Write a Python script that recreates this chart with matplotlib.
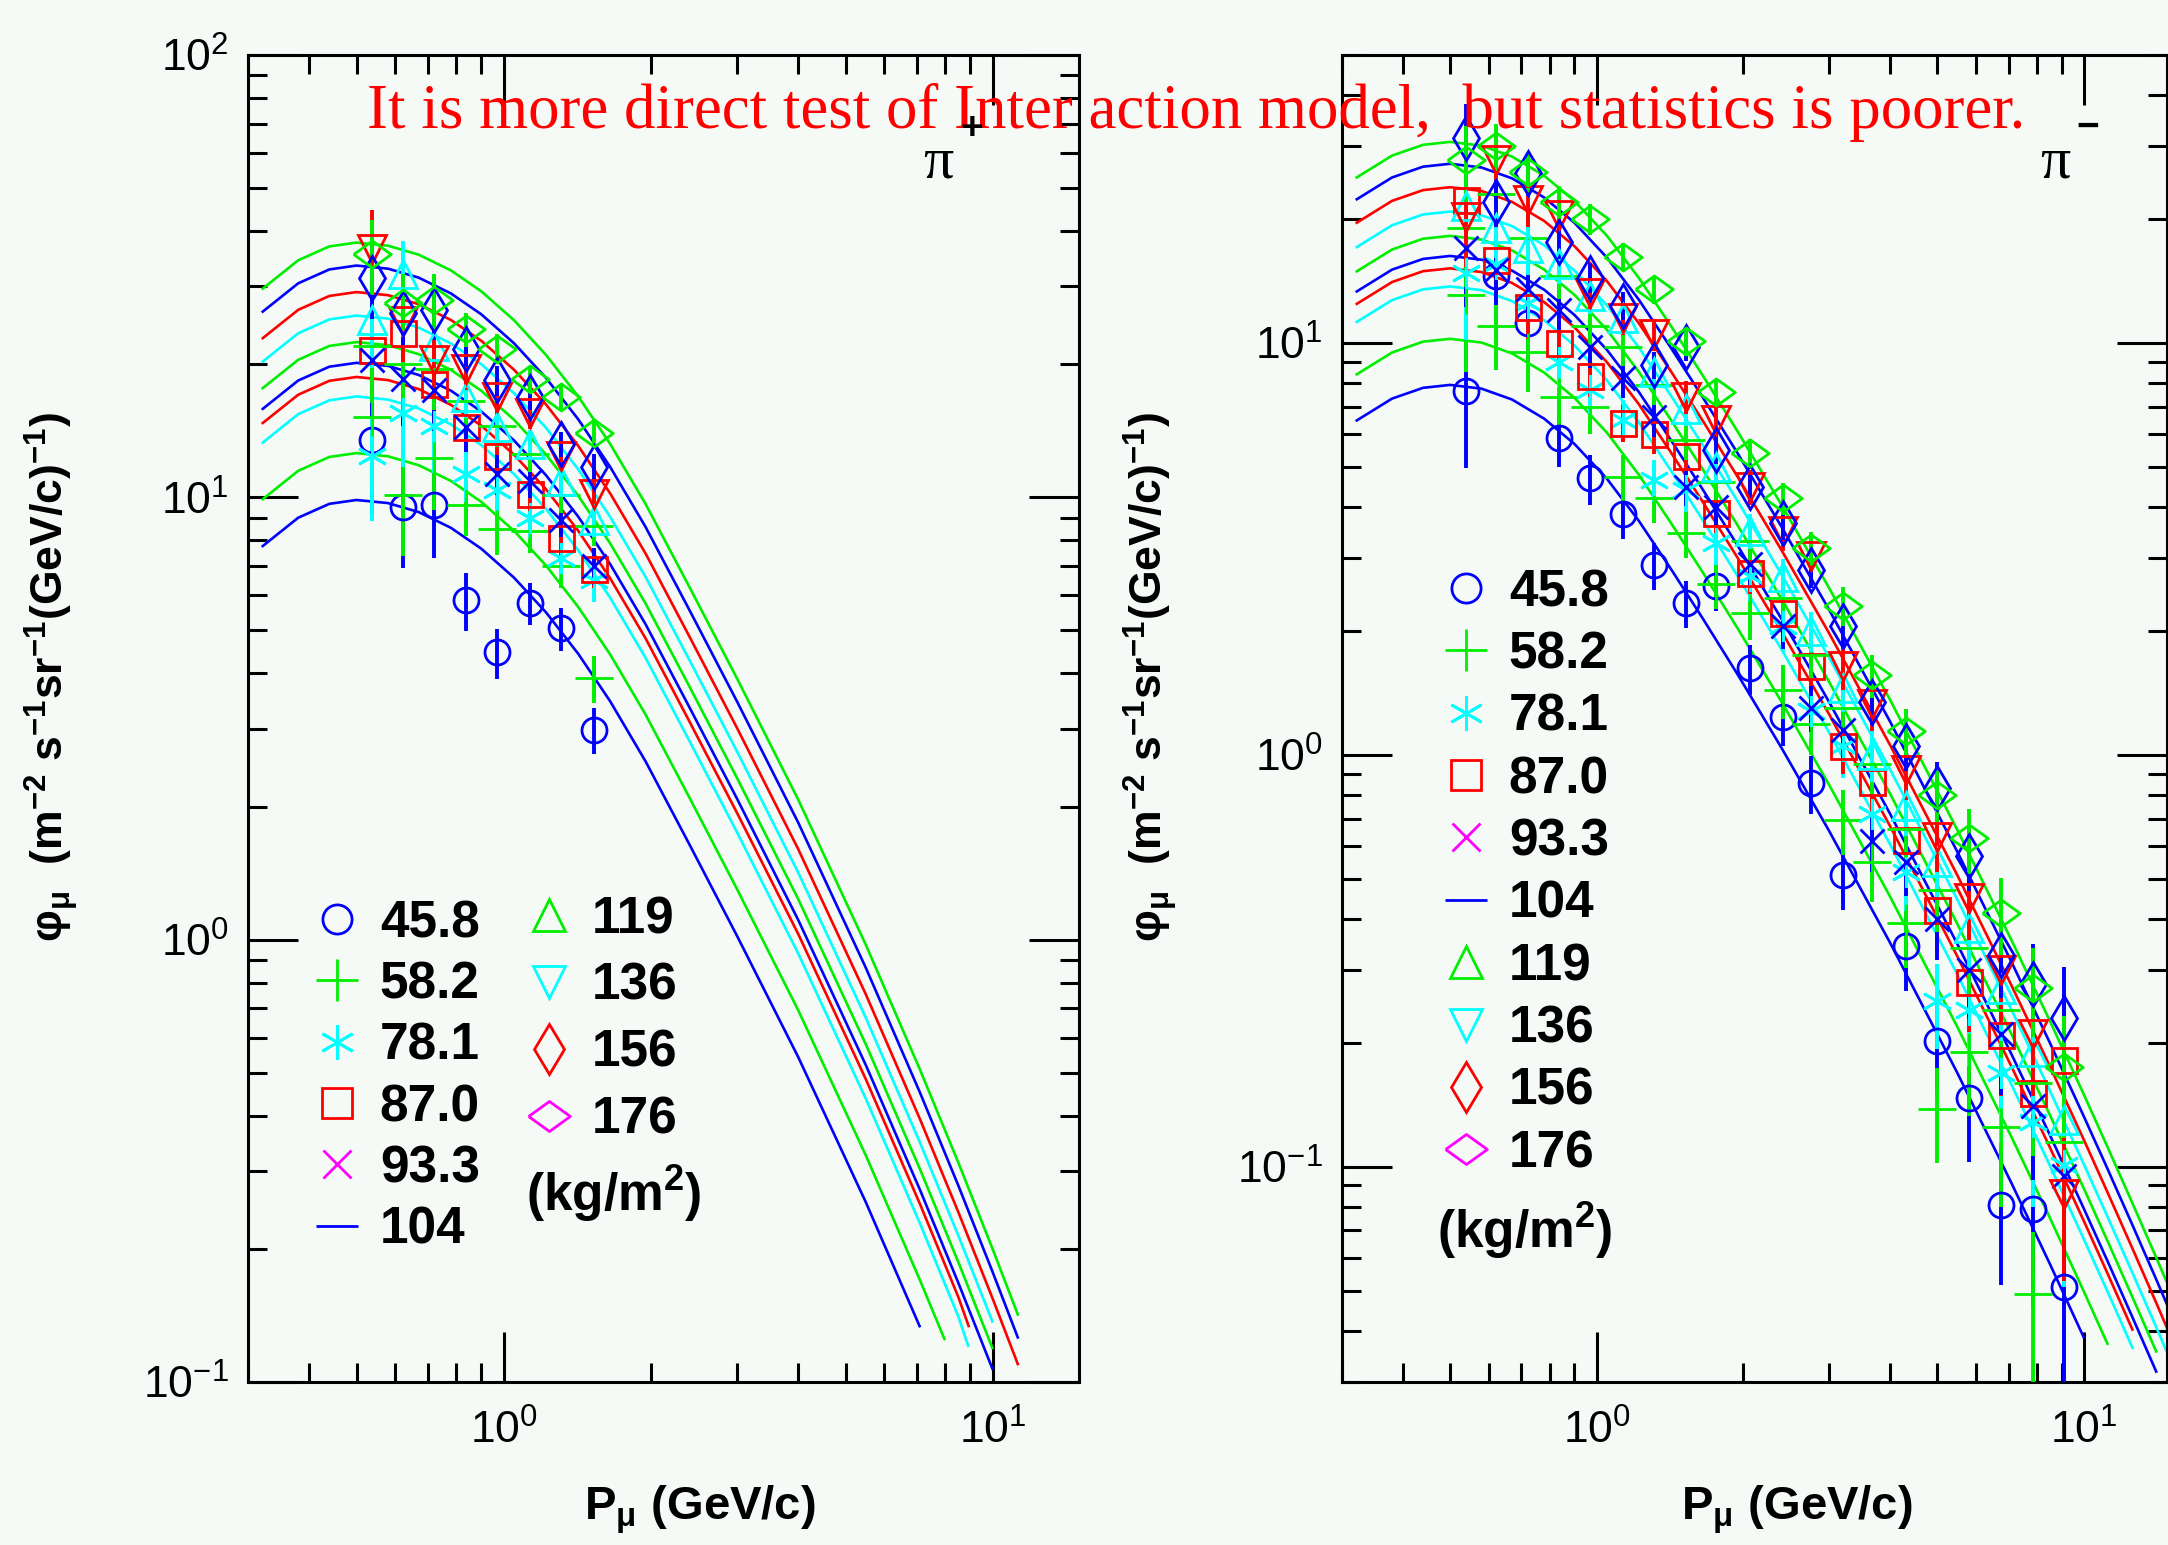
import numpy as np
import matplotlib
matplotlib.use("Agg")
import matplotlib.pyplot as plt
from matplotlib.lines import Line2D
from matplotlib.ticker import LogLocator, NullFormatter

nan = np.nan

# atmospheric depths of the measurements (kg/m^2)
depths = ["45.8", "58.2", "78.1", "87.0", "93.3", "104", "119", "136", "156", "176"]

# muon momentum bin centres (GeV/c)
p_bins = [0.538, 0.621, 0.721, 0.837, 0.968, 1.133, 1.312, 1.528, 1.758, 2.06,
          2.41, 2.75, 3.20, 3.68, 4.31, 5.00, 5.81, 6.75, 7.84, 9.10]

# measured flux, pi+ panel (first 8 momentum bins)
flux_plus = [
    [13.5, 9.5, 9.6, 5.87, 4.47, 5.77, 5.06, 2.98],
    [15.2, 10.1, 12.3, 9.6, 8.5, 8.4, 7.0, 3.9],
    [12.4, 15.5, 14.5, 11.3, 10.4, 9.0, 7.3, 6.5],
    [21.5, 23.5, 18.0, 14.4, 12.4, 10.2, 8.1, 6.9],
    [20.4, 18.5, 17.5, 14.4, 11.3, 10.9, 8.9, 7.0],
    [22.0, 20.0, 19.5, 16.5, 14.5, 12.5, 10.1, 8.6],
    [25.2, 32.0, 22.0, 16.9, 14.4, 13.2, 10.9, 8.9],
    [36.5, 25.0, 20.4, 19.5, 16.9, 15.5, 12.4, 10.2],
    [31.3, 26.1, 26.5, 21.7, 18.4, 16.9, 13.2, 11.7],
    [35.5, 27.5, 28.0, 24.0, 21.7, 18.5, 16.9, 14.0],
]

# measured flux, pi- panel (all 20 momentum bins)
flux_minus = [
    [7.65, 14.5, 11.2, 5.87, 4.70, 3.84, 2.89, 2.34, 2.57, 1.62, 1.235, 0.856, 0.512, nan, 0.343, 0.202, 0.147, 0.0807, 0.0788, 0.051],
    [13.1, 11.0, 9.5, 7.4, 7.0, 4.73, 4.2, 3.45, 2.6, 2.21, 1.44, 1.19, 0.695, 0.55, 0.39, 0.138, 0.19, 0.125, 0.049, nan],
    [14.8, 15.5, 12.5, 9.0, 7.7, 6.5, 4.65, 4.4, 3.27, 2.71, 2.05, 1.28, 1.05, 0.72, 0.52, 0.252, 0.24, 0.169, 0.128, 0.101],
    [22.2, 15.9, 12.2, 10.0, 8.3, 6.4, 6.0, 5.3, 3.86, 2.76, 2.21, 1.64, 1.05, 0.86, 0.62, 0.42, 0.28, 0.209, 0.151, 0.182],
    [17.0, 15.0, 13.5, 12.0, 9.8, 8.2, 6.6, 4.48, 4.0, 2.9, 2.05, 1.3, 1.15, 0.618, 0.55, 0.40, 0.30, 0.21, 0.14, 0.095],
    [19.0, 23.0, 18.0, 14.5, 11.0, 9.8, 7.9, 5.8, 4.6, 3.3, 2.4, 1.75, 1.3, 0.95, 0.66, 0.47, 0.34, 0.24, 0.16, 0.115],
    [21.5, 19.0, 17.0, 15.5, 13.0, 11.5, 8.5, 6.9, 5.0, 3.5, 2.7, 2.0, 1.45, 1.0, 0.75, 0.55, 0.38, 0.27, 0.19, 0.13],
    [20.2, 27.8, 22.2, 20.4, 13.2, 11.5, 10.5, 7.4, 6.5, 4.48, 3.5, 3.03, 1.64, 1.33, 0.918, 0.633, 0.45, 0.30, 0.21, 0.0857],
    [31.4, 22.0, 25.8, 17.6, 14.4, 12.3, 8.84, 9.8, 5.5, 4.48, 3.65, 2.81, 2.05, 1.34, 1.05, 0.83, 0.569, 0.327, 0.277, 0.23],
    [27.8, 30.0, 26.0, 22.0, 20.0, 16.2, 13.5, 10.1, 7.6, 5.4, 4.2, 3.17, 2.3, 1.56, 1.14, 0.80, 0.627, 0.414, 0.271, 0.175],
]

# relative statistical errors per bin, and per-depth scale
rel_err_plus = [0.32, 0.27, 0.24, 0.15, 0.13, 0.11, 0.11, 0.12]
rel_err_minus = [0.35, 0.22, 0.20, 0.15, 0.14, 0.13, 0.13, 0.13, 0.13, 0.14,
                 0.15, 0.16, 0.18, 0.20, 0.22, 0.26, 0.30, 0.36, 0.42, 0.55]
err_scale = [1.0, 1.0, 0.9, 0.8, 0.8, 0.8, 0.7, 0.7, 0.6, 0.6]

# model predictions, pi+ panel
p_model_plus = [0.32, 0.38, 0.44, 0.50, 0.58, 0.67, 0.78, 0.90, 1.05, 1.22, 1.42,
                1.65, 1.95, 2.4, 3.0, 4.0, 5.5, 7.1, 8.5, 10.0, 11.27]
model_plus = [
    [7.727, 8.994, 9.667, 9.863, 9.705, 9.262, 8.531, 7.652, 6.580, 5.496, 4.429, 3.460, 2.529, 1.637, 1.019, 0.5427, 0.2548, 0.1329, nan, nan, nan],
    [9.860, 11.48, 12.34, 12.59, 12.38, 11.82, 10.89, 9.764, 8.396, 7.013, 5.651, 4.415, 3.227, 2.089, 1.300, 0.6925, 0.3251, 0.1696, nan, nan, nan],
    [13.24, 15.42, 16.57, 16.91, 16.63, 15.88, 14.62, 13.12, 11.28, 9.420, 7.591, 5.930, 4.335, 2.806, 1.747, 0.9302, 0.4367, 0.2278, 0.1406, nan, nan],
    [14.66, 17.06, 18.34, 18.71, 18.41, 17.57, 16.18, 14.52, 12.48, 10.43, 8.402, 6.564, 4.798, 3.105, 1.933, 1.030, 0.4834, 0.2521, 0.1556, nan, nan],
    [15.78, 18.37, 19.74, 20.14, 19.82, 18.91, 17.42, 15.63, 13.44, 11.22, 9.044, 7.065, 5.164, 3.343, 2.081, 1.108, 0.5203, 0.2714, 0.1675, 0.1065, nan],
    [17.58, 20.46, 21.99, 22.44, 22.08, 21.07, 19.41, 17.41, 14.97, 12.50, 10.08, 7.872, 5.753, 3.724, 2.318, 1.235, 0.5797, 0.3023, 0.1866, 0.1186, nan],
    [20.18, 23.49, 25.25, 25.76, 25.35, 24.19, 22.28, 19.99, 17.19, 14.36, 11.57, 9.038, 6.606, 4.276, 2.662, 1.418, 0.6655, 0.3471, 0.2143, 0.1362, nan],
    [22.80, 26.54, 28.53, 29.11, 28.64, 27.33, 25.17, 22.58, 19.42, 16.22, 13.07, 10.21, 7.463, 4.831, 3.007, 1.602, 0.7519, 0.3922, 0.2421, 0.1539, 0.1091],
    [26.18, 30.47, 32.75, 33.42, 32.88, 31.38, 28.90, 25.92, 22.29, 18.62, 15.01, 11.72, 8.568, 5.546, 3.452, 1.839, 0.8633, 0.4503, 0.2780, 0.1767, 0.1253],
    [29.51, 34.35, 36.92, 37.67, 37.06, 35.37, 32.58, 29.22, 25.13, 20.99, 16.91, 13.21, 9.658, 6.252, 3.892, 2.073, 0.9731, 0.5075, 0.3133, 0.1992, 0.1412],
]
# last point of the shorter model curves
model_plus_end_p = [nan, 7.98, 8.92, 8.94, nan, nan, nan, nan, nan, nan]
model_plus_end_v = [nan, 0.1243, 0.120, 0.133, nan, nan, nan, nan, nan, nan]

# model predictions, pi- panel
p_model_minus = [0.32, 0.38, 0.44, 0.50, 0.58, 0.67, 0.78, 0.90, 1.05, 1.22, 1.42, 1.65,
                 1.95, 2.4, 3.0, 4.0, 5.5, 7.1, 8.5, 10.0, 11.2, 12.6, 14.1, 15.5]
model_minus = [
    [6.457, 7.323, 7.778, 7.907, 7.743, 7.286, 6.546, 5.684, 4.673, 3.697, 2.824, 2.143, 1.560, 1.034, 0.6523, 0.3494, 0.1685, 0.0911, 0.05821, 0.03837, nan, nan, nan, nan],
    [8.355, 9.476, 10.07, 10.23, 10.02, 9.428, 8.471, 7.355, 6.047, 4.784, 3.654, 2.773, 2.019, 1.338, 0.8441, 0.4521, 0.2180, 0.1179, 0.07532, 0.04965, 0.03689, nan, nan, nan],
    [11.20, 12.70, 13.49, 13.71, 13.43, 12.63, 11.35, 9.856, 8.103, 6.411, 4.897, 3.716, 2.705, 1.793, 1.131, 0.6059, 0.2922, 0.1580, 0.1009, 0.06653, 0.04944, 0.0361, nan, nan],
    [12.39, 14.05, 14.93, 15.17, 14.86, 13.98, 12.56, 10.91, 8.967, 7.095, 5.419, 4.112, 2.994, 1.984, 1.252, 0.6705, 0.3234, 0.1748, 0.1117, 0.07363, 0.05471, 0.03995, nan, nan],
    [13.28, 15.06, 15.99, 16.26, 15.92, 14.98, 13.46, 11.69, 9.608, 7.601, 5.806, 4.406, 3.207, 2.126, 1.341, 0.7184, 0.3464, 0.1873, 0.1197, 0.07889, 0.05862, 0.04281, 0.03158, nan],
    [14.86, 16.85, 17.90, 18.19, 17.82, 16.77, 15.06, 13.08, 10.75, 8.507, 6.498, 4.931, 3.590, 2.379, 1.501, 0.8040, 0.3877, 0.2096, 0.1339, 0.08829, 0.0656, 0.04791, 0.03534, nan],
    [17.02, 19.30, 20.50, 20.84, 20.41, 19.21, 17.26, 14.98, 12.32, 9.745, 7.444, 5.649, 4.112, 2.726, 1.719, 0.9210, 0.4442, 0.2401, 0.1534, 0.1011, 0.07515, 0.05488, 0.04049, 0.03118],
    [19.50, 22.12, 23.49, 23.88, 23.38, 22.00, 19.77, 17.17, 14.11, 11.16, 8.528, 6.472, 4.711, 3.123, 1.970, 1.055, 0.5089, 0.2751, 0.1758, 0.1159, 0.0861, 0.06288, 0.04639, 0.03573],
    [22.23, 25.21, 26.78, 27.22, 26.66, 25.09, 22.54, 19.57, 16.09, 12.73, 9.723, 7.378, 5.371, 3.560, 2.246, 1.203, 0.5801, 0.3137, 0.2004, 0.1321, 0.09816, 0.07168, 0.05288, 0.04073],
    [25.12, 28.49, 30.26, 30.76, 30.12, 28.34, 25.46, 22.11, 18.18, 14.38, 10.99, 8.336, 6.068, 4.022, 2.537, 1.359, 0.6555, 0.3544, 0.2264, 0.1493, 0.1109, 0.08099, 0.05975, 0.04602],
]

title_text = "It is more direct test of Inter action model,  but statistics is poorer."

# ---------------------------------------------------------------- style
W, H = 2168, 1545
BG = "#f6faf6"
plt.rcParams["font.family"] = ["Liberation Sans", "DejaVu Sans"]
plt.rcParams["mathtext.default"] = "regular"

plot_colors = ["#0000ff", "#00ee00", "#00ffff", "#ff0000"]
legend_colors = ["#0000ff", "#00ee00", "#00ffff", "#ff0000", "#ff00ff"]
wide_diamond = [(-1.0, 0.0), (0.0, 0.72), (1.0, 0.0), (0.0, -0.72), (-1.0, 0.0)]
markers = ["o", "+", (6, 2, 0), "s", "x", "_", "^", "v", "d", wide_diamond]
msizes = [18, 27, 22, 18, 17, 27, 20, 20, 22, 27]
MEW = 2.0

fig = plt.figure(figsize=(W / 100, H / 100), dpi=100, facecolor=BG)


def px_axes(x0, x1, y0, y1):
    return fig.add_axes([x0 / W, 1 - y1 / H, (x1 - x0) / W, (y1 - y0) / H])


ax_plus = px_axes(248, 1079, 55, 1382)
ax_minus = px_axes(1342, 2167, 55, 1382)


def style_axes(ax, xlim, ylim):
    ax.set_facecolor("none")
    ax.set_xscale("log")
    ax.set_yscale("log")
    ax.set_xlim(*xlim)
    ax.set_ylim(*ylim)
    for s in ax.spines.values():
        s.set_linewidth(2.2)
    ax.xaxis.set_major_locator(LogLocator(base=10, numticks=10))
    ax.yaxis.set_major_locator(LogLocator(base=10, numticks=10))
    ax.xaxis.set_minor_locator(LogLocator(base=10, subs=np.arange(2, 10), numticks=20))
    ax.yaxis.set_minor_locator(LogLocator(base=10, subs=np.arange(2, 10), numticks=20))
    ax.xaxis.set_minor_formatter(NullFormatter())
    ax.yaxis.set_minor_formatter(NullFormatter())
    ax.tick_params(which="both", direction="in", top=True, right=True,
                   width=2.2, labelsize=32, colors="black")
    ax.tick_params(which="major", length=36)
    ax.tick_params(which="minor", length=14)
    ax.tick_params(axis="x", which="major", pad=20)
    ax.tick_params(axis="y", which="major", pad=14)


style_axes(ax_plus, (0.3, 15), (0.1, 100))
style_axes(ax_minus, (0.3, 14.8), (0.03, 50))


def draw_panel(ax, p_model, model, end_p, end_v, flux, rel_err):
    for i in range(len(depths)):
        col = plot_colors[i % 4]
        pm = np.array(p_model, dtype=float)
        vm = np.array(model[i], dtype=float)
        ok = ~np.isnan(vm)
        pm, vm = pm[ok], vm[ok]
        if end_p is not None and not np.isnan(end_p[i]):
            pm = np.append(pm, end_p[i])
            vm = np.append(vm, end_v[i])
        ax.plot(pm, vm, color=col, lw=1.9, solid_capstyle="butt", zorder=2)
    for i in range(len(depths)):
        col = plot_colors[i % 4]
        v = np.array(flux[i], dtype=float)
        p = np.array(p_bins[:len(v)], dtype=float)
        e = v * np.array(rel_err, dtype=float) * err_scale[i]
        ax.errorbar(p, v, yerr=e, fmt="none", ecolor=col, elinewidth=2.8,
                    capsize=0, zorder=3)
        ax.plot(p, v, linestyle="none", marker=markers[i], ms=msizes[i],
                mfc="none", mec=col, mew=MEW, zorder=4)


draw_panel(ax_plus, p_model_plus, model_plus, model_plus_end_p, model_plus_end_v,
           flux_plus, rel_err_plus)
draw_panel(ax_minus, p_model_minus, model_minus, None, None, flux_minus, rel_err_minus)


def handles(idx):
    return [Line2D([], [], linestyle="none", marker=markers[i], ms=msizes[i] + 3,
                   mfc="none", mec=legend_colors[i % 5], mew=MEW) for i in idx]


LEG_FONT = {"family": ["Liberation Sans", "DejaVu Sans"], "weight": "bold", "size": 37}


def add_legend(ax, idx, x_px, y_px, spacing):
    leg = ax.legend(handles(idx), [depths[i] for i in idx], loc="upper left",
                    bbox_to_anchor=(x_px / W, 1 - y_px / H), bbox_transform=fig.transFigure,
                    frameon=False, prop=LEG_FONT, handlelength=1.0, handletextpad=0.34,
                    labelspacing=spacing, borderpad=0, borderaxespad=0, numpoints=1)
    leg.set_zorder(6)
    return leg


leg1 = add_legend(ax_plus, range(0, 6), 311, 899, 0.24)
ax_plus.add_artist(leg1)
add_legend(ax_plus, range(6, 10), 523, 895, 0.35)
add_legend(ax_minus, range(0, 10), 1440, 568, 0.26)

unit_label = "(kg/m$^{2}$)"
fig.text(526 / W, 1 - 1194 / H, unit_label, ha="left", va="center",
         fontsize=37, fontweight="bold")
fig.text(1437 / W, 1 - 1231 / H, unit_label, ha="left", va="center",
         fontsize=37, fontweight="bold")

# axis titles
ylab = "φ$_{μ}$  (m$^{-2}$ s$^{-1}$sr$^{-1}$(GeV/c)$^{-1}$)"
xlab = "P$_{μ}$ (GeV/c)"
for xc in (51, 1150):
    fig.text(xc / W, 1 - 677 / H, ylab, rotation=90, ha="center", va="center",
             fontsize=32, fontweight="bold")
for xc in (700, 1797):
    fig.text(xc / W, 1 - 1519 / H, xlab, ha="center", va="baseline",
             fontsize=34, fontweight="bold")

# headline
serif = ["Liberation Serif", "DejaVu Serif"]
fig.text(367 / W, 1 - 128 / H, title_text, family=serif, fontsize=45.3, color="#ff0000",
         ha="left", va="baseline", zorder=10)

# particle labels
fig.text(938 / W, 1 - 177 / H, "π", family=serif, fontsize=43, ha="center",
         va="baseline", zorder=11)
fig.text(972 / W, 1 - 129 / H, "+", fontsize=28, fontweight="bold",
         ha="center", va="center", zorder=11)
fig.text(2055 / W, 1 - 177 / H, "π", family=serif, fontsize=43, ha="center",
         va="baseline", zorder=11)
fig.text(2088 / W, 1 - 128 / H, "−", fontsize=28, fontweight="bold", ha="center",
         va="center", zorder=11)

fig.savefig("out.png", dpi=100, facecolor=BG)
